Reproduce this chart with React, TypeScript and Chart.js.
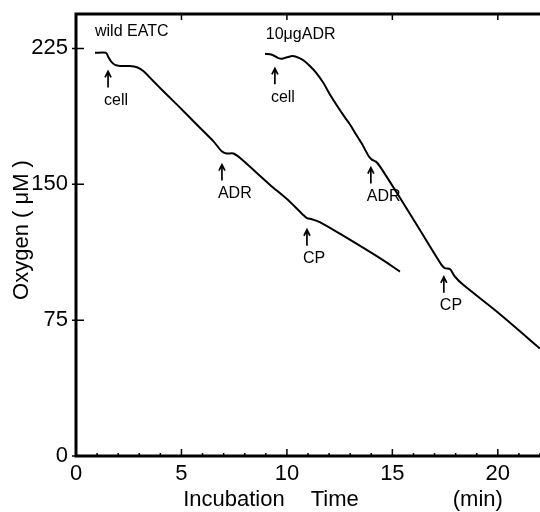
import React, { useEffect, useRef } from "react";
import { Chart, registerables } from "chart.js";

Chart.register(...registerables);

// ---- data ----
const wildTime = [0.9, 1.42, 1.52, 1.66, 1.85, 2.09, 2.56, 2.89, 3.19, 3.66, 4.14, 4.93, 5.72, 6.51, 6.91, 7.14, 7.46, 7.77, 9.19, 10.14, 10.76, 10.95, 11.18, 11.56, 12.51, 14.41, 15.36];
const wildO2 = [222.6, 222.6, 220.6, 217.9, 215.9, 215.3, 215.3, 214.6, 212.5, 207.0, 201.4, 192.3, 183.0, 173.8, 168.2, 167.0, 167.0, 164.6, 149.8, 140.4, 133.2, 131.3, 130.7, 129.1, 122.7, 109.2, 101.8];

const adrTime = [8.96, 9.29, 9.57, 9.76, 10.0, 10.28, 10.57, 10.81, 11.09, 11.37, 11.71, 12.04, 12.37, 12.75, 12.99, 13.22, 13.55, 13.89, 14.03, 14.22, 14.41, 15.36, 16.3, 17.33, 17.49, 17.73, 17.96, 18.36, 20.09, 21.99];
const adrO2 = [222.0, 221.5, 219.8, 219.3, 220.1, 220.8, 219.8, 218.2, 215.3, 211.8, 206.3, 199.6, 193.5, 186.9, 183.0, 178.6, 172.5, 165.3, 163.6, 162.5, 159.9, 142.6, 124.9, 105.5, 103.7, 103.2, 99.1, 94.5, 78.4, 59.4];

const xTickValues = [0, 1, 2, 3, 4, 5, 6, 7, 8, 9, 10, 11, 12, 13, 14, 15, 16, 17, 18, 19, 20, 21, 22];
const xLabelStep = 5;
const yTickValues = [0, 75, 150, 225];

const arrowLabels = ["cell", "ADR", "CP", "cell", "ADR", "CP"];
const arrowTime = [1.52, 6.92, 10.95, 9.43, 13.98, 17.44];
const arrowO2 = [212.3, 160.9, 124.9, 214.0, 159.2, 98.9];

const seriesNames = ["wild EATC", "10\u03bcgADR"];
const seriesNameTime = [0.9, 9.0];
const seriesNameO2 = [234.5, 232.8];

const xTitleWords = ["Incubation", "Time", "(min)"];
const xTitleWordTime = [7.49, 12.27, 19.05];
const yTitle = "Oxygen ( \u03bcM )";

const FONT = '"Liberation Sans", Arial, Helvetica, sans-serif';

const overlayPlugin = {
  id: "overlay",
  afterDraw(chart: any) {
    const ctx = chart.ctx;
    const xs = chart.scales.x;
    const ys = chart.scales.y;
    const { left, right, top, bottom } = chart.chartArea;
    ctx.save();
    ctx.strokeStyle = "#000";
    ctx.fillStyle = "#000";

    // frame: left, bottom, top
    ctx.lineWidth = 3;
    ctx.lineCap = "square";
    ctx.beginPath();
    ctx.moveTo(right, top);
    ctx.lineTo(left, top);
    ctx.lineTo(left, bottom);
    ctx.lineTo(right, bottom);
    ctx.stroke();

    // x ticks (inward)
    ctx.lineCap = "butt";
    ctx.lineWidth = 1.5;
    ctx.beginPath();
    for (const v of xTickValues) {
      const px = xs.getPixelForValue(v);
      const major = v % xLabelStep === 0;
      const len = major ? 7 : 3;
      ctx.moveTo(px, bottom);
      ctx.lineTo(px, bottom - len);
      if (major && v > 0) {
        ctx.moveTo(px, top);
        ctx.lineTo(px, top + 6);
      }
    }
    // y ticks (crossing)
    for (const v of yTickValues) {
      const py = ys.getPixelForValue(v);
      ctx.moveTo(left - 4, py);
      ctx.lineTo(left + 8, py);
    }
    ctx.stroke();

    // arrows with labels
    ctx.font = `16px ${FONT}`;
    ctx.textBaseline = "middle";
    ctx.textAlign = "left";
    ctx.lineWidth = 1.7;
    for (let i = 0; i < arrowLabels.length; i++) {
      const ax = xs.getPixelForValue(arrowTime[i]);
      const ay = ys.getPixelForValue(arrowO2[i]);
      ctx.beginPath();
      ctx.moveTo(ax, ay + 1);
      ctx.lineTo(ax, ay + 16);
      ctx.moveTo(ax - 3, ay + 6);
      ctx.lineTo(ax, ay);
      ctx.lineTo(ax + 3, ay + 6);
      ctx.stroke();
      ctx.fillText(arrowLabels[i], ax - 4, ay + 29);
    }

    // series names
    for (let i = 0; i < seriesNames.length; i++) {
      ctx.fillText(seriesNames[i], xs.getPixelForValue(seriesNameTime[i]), ys.getPixelForValue(seriesNameO2[i]));
    }

    // axis titles
    ctx.font = `22px ${FONT}`;
    ctx.textAlign = "center";
    for (let i = 0; i < xTitleWords.length; i++) {
      ctx.fillText(xTitleWords[i], xs.getPixelForValue(xTitleWordTime[i]), 500);
    }
    ctx.translate(22, 230);
    ctx.rotate(-Math.PI / 2);
    ctx.fillText(yTitle, 0, 0);
    ctx.restore();
  },
};

export default function App() {
  const ref = useRef<HTMLCanvasElement | null>(null);
  useEffect(() => {
    if (!ref.current) return;
    const chart = new Chart(ref.current, {
      type: "line",
      data: {
        datasets: [
          {
            label: seriesNames[0],
            data: wildTime.map((t, i) => ({ x: t, y: wildO2[i] })),
            borderColor: "#000",
            borderWidth: 2,
            pointRadius: 0,
            tension: 0.25,
            fill: false,
          },
          {
            label: seriesNames[1],
            data: adrTime.map((t, i) => ({ x: t, y: adrO2[i] })),
            borderColor: "#000",
            borderWidth: 2,
            pointRadius: 0,
            tension: 0.25,
            fill: false,
          },
        ],
      },
      options: {
        responsive: false,
        maintainAspectRatio: false,
        animation: false,
        layout: { padding: { top: 14, right: 0, left: 0, bottom: 0 } },
        plugins: { legend: { display: false }, tooltip: { enabled: false } },
        scales: {
          x: {
            type: "linear",
            min: 0,
            max: 22,
            grid: { display: false, drawTicks: false },
            border: { display: false },
            ticks: {
              color: "#000",
              font: { size: 22, family: FONT },
              padding: 5,
              autoSkip: false,
              maxRotation: 0,
              callback: (v: any) => (Number(v) % xLabelStep === 0 ? String(v) : ""),
            },
            afterBuildTicks: (s: any) => {
              s.ticks = xTickValues.map((v) => ({ value: v }));
            },
            afterFit: (s: any) => {
              s.height = 56;
              s.paddingLeft = 0;
              s.paddingRight = 0;
            },
          },
          y: {
            type: "linear",
            min: 0,
            max: 244,
            grid: { display: false, drawTicks: false },
            border: { display: false },
            ticks: {
              color: "#000",
              font: { size: 22, family: FONT },
              padding: 8,
            },
            afterBuildTicks: (s: any) => {
              s.ticks = yTickValues.map((v) => ({ value: v }));
            },
            afterFit: (s: any) => {
              s.width = 76;
              s.paddingTop = 0;
              s.paddingBottom = 0;
            },
          },
        },
      },
      plugins: [overlayPlugin],
    });
    return () => chart.destroy();
  }, []);
  return (
    <div style={{ position: "absolute", left: 0, top: 0, width: 540, height: 512, background: "#fff" }}>
      <canvas ref={ref} width={540} height={512} style={{ display: "block" }} />
    </div>
  );
}
